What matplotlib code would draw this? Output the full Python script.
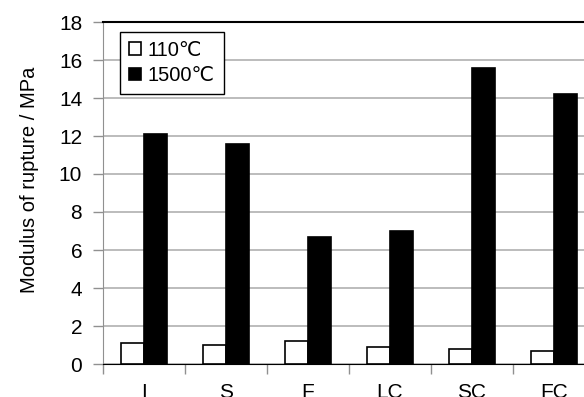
import matplotlib
matplotlib.use("Agg")
import matplotlib.pyplot as plt
import numpy as np

plt.rcParams['font.family'] = ['Liberation Sans', 'DejaVu Sans']

categories = ['I', 'S', 'F', 'LC', 'SC', 'FC']
mor_110 = [1.1, 1.0, 1.2, 0.9, 0.8, 0.7]
mor_1500 = [12.1, 11.6, 6.7, 7.0, 15.6, 14.2]
yticks = [0, 2, 4, 6, 8, 10, 12, 14, 16, 18]

fig = plt.figure(figsize=(5.84, 3.97), dpi=100)
# axes runs past the right edge of the picture, as in the original crop
ax = fig.add_axes([103/584, 1 - 364/397, 492/584, 342/397])

x = np.arange(len(categories))
w = 0.285
ax.bar(x - w/2, mor_110, w, color='white', edgecolor='black', linewidth=1.2,
       label='110\u2103', zorder=3)
ax.bar(x + w/2, mor_1500, w, color='black', edgecolor='black', linewidth=1.2,
       label='1500\u2103', zorder=3)

ax.set_xlim(-0.5, len(categories) - 0.5)
ax.set_ylim(0, 18)
ax.set_yticks(yticks)
ax.yaxis.grid(True, color='#b0b0b0', linewidth=1.2, zorder=0)
ax.set_xticks(x)
ax.set_xticklabels(categories)
ax.set_xticks(np.arange(-0.5, len(categories), 1), minor=True)
ax.tick_params(axis='x', which='major', length=0, pad=14, labelsize=15)
ax.tick_params(axis='x', which='minor', length=7, color='#909090', width=1)
ax.tick_params(axis='y', length=7, color='#909090', width=1, labelsize=15, pad=8)

ax.spines['left'].set_color('#909090')
ax.spines['bottom'].set_color('black')
ax.spines['top'].set_color('black')
ax.spines['top'].set_linewidth(1.5)
ax.spines['right'].set_visible(False)

ax.set_ylabel('Modulus of rupture / MPa', fontsize=14.5)
ax.yaxis.set_label_coords(-0.13, 0.54)

leg = ax.legend(loc='upper left', bbox_to_anchor=(0.035, 0.971), fontsize=14.5,
                frameon=True, fancybox=False, edgecolor='black', framealpha=1,
                handlelength=0.6, handleheight=0.6, handletextpad=0.3,
                borderpad=0.45, labelspacing=0.3, borderaxespad=0)
leg.get_frame().set_linewidth(1.0)

fig.savefig('out.png', dpi=100)
